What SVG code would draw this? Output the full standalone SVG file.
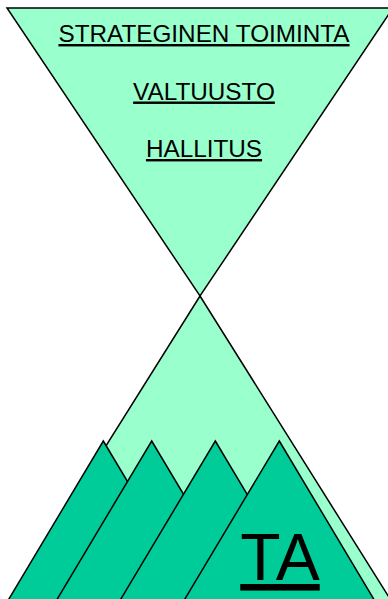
<svg xmlns="http://www.w3.org/2000/svg" width="388" height="599" viewBox="0 0 388 599">
<style>
.light{fill:#99FFCC;stroke:#000;stroke-width:1.5;stroke-linejoin:miter}
.dark{fill:#00CC99;stroke:#000;stroke-width:1.5;stroke-linejoin:miter}
.lbl{font-family:"Liberation Sans",Arial,sans-serif;fill:#000;text-anchor:middle;text-decoration:underline}
</style>
<rect width="388" height="599" fill="#fff"/>
<g id="top-triangle">
<polygon class="light" points="7,8 393,8 200,296"/>
<text class="lbl" x="204" y="42" font-size="24.3">STRATEGINEN TOIMINTA</text>
<text class="lbl" x="204" y="99.5" font-size="24.3">VALTUUSTO</text>
<text class="lbl" x="204" y="157" font-size="24.3">HALLITUS</text>
</g>
<g id="bottom-triangle">
<polygon class="light" points="200,296 392,602 8,602"/>
</g>
<g id="peak1"><polygon class="dark" points="103.3,441 198.3,600 8.3,600"/></g>
<g id="peak2"><polygon class="dark" points="151.7,441 246.7,600 56.7,600"/></g>
<g id="peak3"><polygon class="dark" points="215.3,441 310.3,600 120.3,600"/></g>
<g id="peak4"><polygon class="dark" points="279.3,441 374.3,600 184.3,600"/>
<text class="lbl" x="280" y="580" font-size="66">TA</text>
</g>
<g id="connectors"/>
</svg>
